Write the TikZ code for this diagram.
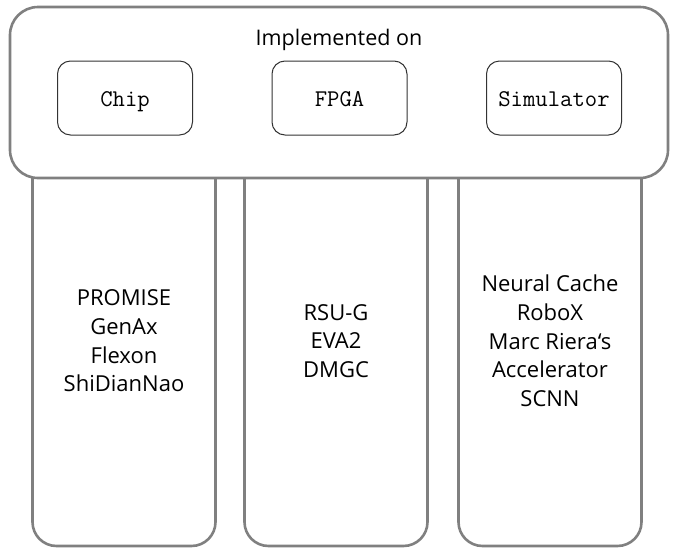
\documentclass[tikz,border=0pt]{standalone}
\usepackage{fontspec}
\setmainfont{Open Sans}
\begin{document}
\begin{tikzpicture}[x=1pt,y=-1pt,
  outerbox/.style={draw=black!50, line width=2.6pt, rounded corners=28pt, fill=white, inner sep=0pt},
  colbox/.style={draw=black!50, line width=2.6pt, rounded corners=24pt, inner sep=0pt, minimum width=183pt, minimum height=396pt},
  kindbox/.style={draw=black!80, line width=1pt, rounded corners=13pt, minimum width=135pt, minimum height=74pt, inner sep=0pt,
    text height=16pt, text depth=0pt,
    font=\ttfamily\fontsize{24}{26}\selectfont},
  coltext/.style={align=center, font=\fontsize{22}{28.7}\selectfont, inner sep=0pt},
  titletext/.style={font=\fontsize{21.5}{26}\selectfont, inner sep=0pt}]
\useasboundingbox (0,0) rectangle (678,552);
% columns (tops hidden behind the top box)
\node[colbox] (colA) at (124,348) {};
\node[colbox] (colB) at (336,348) {};
\node[colbox] (colC) at (550,348) {};
% top box
\node[outerbox, minimum width=658pt, minimum height=171pt] (top) at (339,92.5) {};
\node[titletext, anchor=base] (title) at (339,45) {Implemented on};
\node[kindbox] (chip) at (125,98) {Chip};
\node[kindbox] (fpga) at (339.5,98) {FPGA};
\node[kindbox] (sim) at (554,98) {Simulator};
% column texts
\node[coltext] (tA) at (124,341) {PROMISE\\GenAx\\Flexon\\ShiDianNao};
\node[coltext] (tB) at (336,341) {RSU-G\\EVA2\\DMGC};
\node[coltext] (tC) at (550,341) {Neural Cache\\RoboX\\Marc Riera\symbol{96}s\\Accelerator\\SCNN};
\end{tikzpicture}
\end{document}
